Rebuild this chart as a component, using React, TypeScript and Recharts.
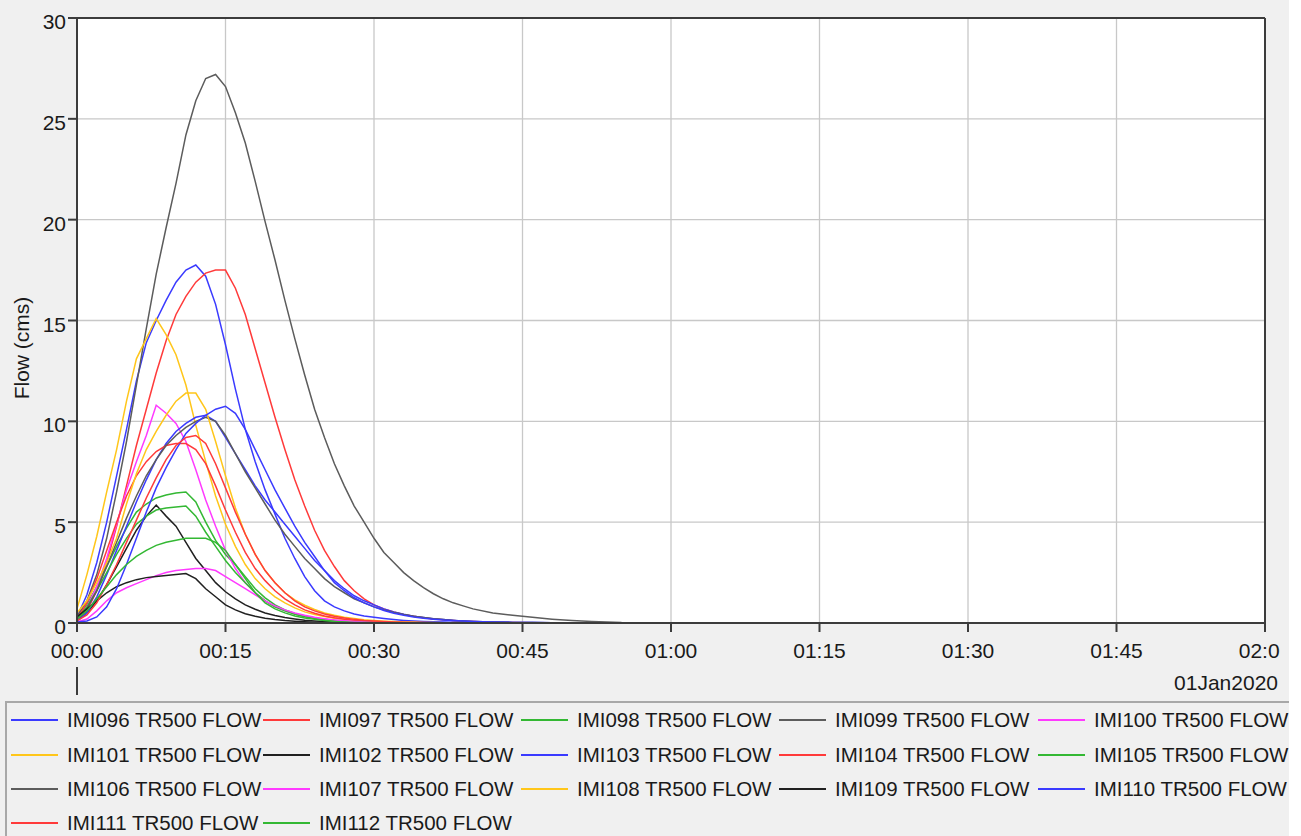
import React from "react";
import {
  LineChart,
  Line,
  XAxis,
  YAxis,
  CartesianGrid,
  ReferenceLine,
} from "recharts";

// sample times (minutes after 00:00)
const minutes = [
  0, 1, 2, 3, 4, 5, 6, 7, 8, 9, 10, 11, 12, 13, 14, 15, 16, 17, 18, 19, 20,
  21, 22, 23, 24, 25, 26, 27, 28, 29, 30, 31, 32, 33, 34, 35, 36, 37, 38, 39, 40,
  42, 44, 46, 48, 50, 52, 55, 60, 120,
];

const xTicks = [0, 15, 30, 45, 60, 75, 90, 105, 120];
const yTicks = [0, 5, 10, 15, 20, 25, 30];

const imi096 = [
  0.3, 1.4, 3.0, 5.0, 7.3, 9.6, 12.0, 13.9, 15.0, 16.0, 16.9,
  17.5, 17.75, 17.2, 15.8, 13.8, 11.6, 9.6, 8.0, 6.6, 5.4,
  4.2, 3.2, 2.3, 1.6, 1.1, 0.8, 0.6, 0.45, 0.35, 0.28,
  0.22, 0.17, 0.13, 0.1, 0.08, 0.06, 0.05, 0.04, 0.03, 0.02,
  0.01, 0, 0, 0, 0, 0, 0, 0, 0,
];
const imi097 = [
  0.1, 0.6, 1.6, 3.0, 4.8, 6.8, 8.8, 10.6, 12.4, 14.0, 15.3,
  16.2, 16.9, 17.35, 17.5, 17.5, 16.6, 15.3, 13.6, 11.9, 10.2,
  8.6, 7.1, 5.8, 4.6, 3.6, 2.8, 2.1, 1.6, 1.2, 0.9,
  0.7, 0.55, 0.42, 0.33, 0.26, 0.2, 0.16, 0.12, 0.09, 0.07,
  0.04, 0.02, 0.01, 0, 0, 0, 0, 0, 0,
];
const imi098 = [
  0.3, 0.9, 1.8, 2.8, 3.8, 4.7, 5.5, 5.9, 6.2, 6.35, 6.45,
  6.5, 6.0, 5.0, 4.1, 3.4, 2.9, 2.3, 1.7, 1.25, 0.9,
  0.65, 0.47, 0.34, 0.25, 0.18, 0.13, 0.09, 0.06, 0.04, 0.03,
  0.02, 0.01, 0, 0, 0, 0, 0, 0, 0, 0,
  0, 0, 0, 0, 0, 0, 0, 0, 0,
];
const imi099 = [
  0.3, 1.1, 2.4, 4.2, 6.5, 9.0, 11.8, 14.6, 17.3, 19.6, 21.8,
  24.2, 25.9, 27.0, 27.2, 26.6, 25.3, 23.8, 21.9, 19.9, 18.0,
  16.0, 14.1, 12.3, 10.6, 9.2, 7.9, 6.8, 5.8, 5.0, 4.2,
  3.5, 3.0, 2.5, 2.1, 1.75, 1.45, 1.2, 1.0, 0.85, 0.7,
  0.5, 0.38, 0.28, 0.19, 0.12, 0.07, 0.02, 0, 0,
];
const imi100 = [
  0.2, 0.8, 1.8, 3.2, 4.9, 6.6, 8.0, 9.3, 10.8, 10.4, 9.9,
  9.0, 7.6, 6.1, 4.8, 3.6, 2.7, 2.0, 1.5, 1.1, 0.8,
  0.6, 0.45, 0.34, 0.25, 0.19, 0.14, 0.1, 0.08, 0.06, 0.04,
  0.03, 0.02, 0.01, 0, 0, 0, 0, 0, 0, 0,
  0, 0, 0, 0, 0, 0, 0, 0, 0,
];
const imi101 = [
  0.7, 2.4, 4.3, 6.5, 8.6, 11.0, 13.1, 14.1, 15.1, 14.3, 13.3,
  11.8, 9.8, 8.0, 6.3, 4.9, 3.8, 2.9, 2.2, 1.7, 1.3,
  1.0, 0.75, 0.55, 0.42, 0.32, 0.24, 0.18, 0.13, 0.1, 0.07,
  0.05, 0.04, 0.03, 0.02, 0.01, 0, 0, 0, 0, 0,
  0, 0, 0, 0, 0, 0, 0, 0, 0,
];
const imi102 = [
  0.1, 0.5, 1.1, 1.9, 2.8, 3.7, 4.6, 5.3, 5.85, 5.3, 4.8,
  4.0, 3.2, 2.6, 2.0, 1.55, 1.2, 0.9, 0.68, 0.5, 0.37,
  0.27, 0.2, 0.14, 0.1, 0.07, 0.05, 0.03, 0.02, 0.01, 0,
  0, 0, 0, 0, 0, 0, 0, 0, 0, 0,
  0, 0, 0, 0, 0, 0, 0, 0, 0,
];
const imi103 = [
  0.1, 0.5, 1.3, 2.4, 3.6, 4.8, 6.0, 7.1, 8.1, 8.9, 9.5,
  9.9, 10.2, 10.3, 10.0, 9.2, 8.4, 7.6, 6.8, 6.1, 5.5,
  4.9, 4.3, 3.7, 3.1, 2.6, 2.1, 1.7, 1.35, 1.1, 0.9,
  0.7, 0.55, 0.43, 0.34, 0.27, 0.21, 0.17, 0.13, 0.1, 0.08,
  0.05, 0.03, 0.02, 0.01, 0, 0, 0, 0, 0,
];
const imi104 = [
  0.2, 1.0, 2.2, 3.6, 5.0, 6.3, 7.3, 8.0, 8.5, 8.8, 8.9,
  8.9, 8.6, 7.9, 6.8, 5.6, 4.5, 3.5, 2.7, 2.1, 1.6,
  1.2, 0.9, 0.65, 0.48, 0.35, 0.26, 0.19, 0.14, 0.1, 0.07,
  0.05, 0.04, 0.03, 0.02, 0.01, 0, 0, 0, 0, 0,
  0, 0, 0, 0, 0, 0, 0, 0, 0,
];
const imi105 = [
  0.2, 0.8, 1.6, 2.5, 3.4, 4.2, 4.9, 5.3, 5.6, 5.7, 5.75,
  5.8, 5.3, 4.5, 3.8, 3.1, 2.5, 2.0, 1.5, 1.1, 0.8,
  0.6, 0.43, 0.31, 0.22, 0.16, 0.11, 0.08, 0.05, 0.03, 0.02,
  0.01, 0, 0, 0, 0, 0, 0, 0, 0, 0,
  0, 0, 0, 0, 0, 0, 0, 0, 0,
];
const imi106 = [
  0.2, 0.7, 1.6, 2.8, 4.0, 5.2, 6.3, 7.3, 8.1, 8.8, 9.3,
  9.7, 10.0, 10.2, 10.0, 9.3, 8.4, 7.5, 6.7, 5.9, 5.1,
  4.4, 3.8, 3.2, 2.7, 2.2, 1.8, 1.5, 1.2, 1.0, 0.8,
  0.65, 0.52, 0.42, 0.34, 0.27, 0.21, 0.17, 0.13, 0.1, 0.08,
  0.05, 0.03, 0.02, 0.01, 0, 0, 0, 0, 0,
];
const imi107 = [
  0.05, 0.2, 0.6, 1.1, 1.5, 1.75, 1.95, 2.15, 2.35, 2.5, 2.6,
  2.65, 2.7, 2.7, 2.6, 2.3, 2.0, 1.7, 1.4, 1.1, 0.85,
  0.65, 0.5, 0.38, 0.28, 0.21, 0.15, 0.11, 0.08, 0.06, 0.04,
  0.03, 0.02, 0.01, 0, 0, 0, 0, 0, 0, 0,
  0, 0, 0, 0, 0, 0, 0, 0, 0,
];
const imi108 = [
  0.5, 1.1, 2.0, 3.0, 4.2, 5.9, 7.4, 8.6, 9.5, 10.3, 11.0,
  11.4, 11.4, 10.6, 9.0, 7.3, 5.7, 4.4, 3.4, 2.6, 2.0,
  1.5, 1.15, 0.88, 0.67, 0.5, 0.38, 0.29, 0.22, 0.16, 0.12,
  0.09, 0.07, 0.05, 0.04, 0.03, 0.02, 0.01, 0, 0, 0,
  0, 0, 0, 0, 0, 0, 0, 0, 0,
];
const imi109 = [
  0.3, 0.7, 1.1, 1.5, 1.8, 2.0, 2.15, 2.25, 2.3, 2.35, 2.4,
  2.45, 2.2, 1.7, 1.3, 0.9, 0.65, 0.46, 0.33, 0.24, 0.17,
  0.12, 0.09, 0.06, 0.04, 0.03, 0.02, 0.01, 0, 0, 0,
  0, 0, 0, 0, 0, 0, 0, 0, 0, 0,
  0, 0, 0, 0, 0, 0, 0, 0, 0,
];
const imi110 = [
  0.05, 0.1, 0.3, 0.8, 1.7, 2.9, 4.2, 5.5, 6.7, 7.7, 8.6,
  9.4, 9.9, 10.3, 10.6, 10.75, 10.4, 9.6, 8.6, 7.6, 6.6,
  5.7, 4.8, 4.0, 3.3, 2.6, 2.0, 1.6, 1.25, 1.0, 0.8,
  0.62, 0.48, 0.38, 0.3, 0.24, 0.19, 0.15, 0.12, 0.1, 0.08,
  0.05, 0.03, 0.02, 0.01, 0, 0, 0, 0, 0,
];
const imi111 = [
  0.1, 0.4, 1.0, 1.9, 2.9, 4.0, 5.1, 6.2, 7.2, 8.1, 8.8,
  9.2, 9.3, 8.9, 7.9, 6.7, 5.5, 4.4, 3.4, 2.6, 2.0,
  1.5, 1.1, 0.8, 0.6, 0.45, 0.33, 0.25, 0.18, 0.13, 0.1,
  0.07, 0.05, 0.04, 0.03, 0.02, 0.01, 0, 0, 0, 0,
  0, 0, 0, 0, 0, 0, 0, 0, 0,
];
const imi112 = [
  0.2, 0.6, 1.2, 1.8, 2.4, 2.9, 3.3, 3.6, 3.85, 4.0, 4.1,
  4.2, 4.2, 4.2, 4.0, 3.6, 2.9, 2.2, 1.5, 1.0, 0.7,
  0.5, 0.35, 0.25, 0.18, 0.12, 0.08, 0.05, 0.03, 0.02, 0.01,
  0, 0, 0, 0, 0, 0, 0, 0, 0, 0,
  0, 0, 0, 0, 0, 0, 0, 0, 0,
];

const BLUE = "#3a3aff";
const RED = "#ff3a3a";
const GREEN = "#33b833";
const GRAY = "#5c5c5c";
const MAGENTA = "#ff3aff";
const GOLD = "#ffc61a";
const BLACK = "#202020";

const series = [
  { name: "IMI096 TR500 FLOW", values: imi096, color: BLUE },
  { name: "IMI097 TR500 FLOW", values: imi097, color: RED },
  { name: "IMI098 TR500 FLOW", values: imi098, color: GREEN },
  { name: "IMI099 TR500 FLOW", values: imi099, color: GRAY },
  { name: "IMI100 TR500 FLOW", values: imi100, color: MAGENTA },
  { name: "IMI101 TR500 FLOW", values: imi101, color: GOLD },
  { name: "IMI102 TR500 FLOW", values: imi102, color: BLACK },
  { name: "IMI103 TR500 FLOW", values: imi103, color: BLUE },
  { name: "IMI104 TR500 FLOW", values: imi104, color: RED },
  { name: "IMI105 TR500 FLOW", values: imi105, color: GREEN },
  { name: "IMI106 TR500 FLOW", values: imi106, color: GRAY },
  { name: "IMI107 TR500 FLOW", values: imi107, color: MAGENTA },
  { name: "IMI108 TR500 FLOW", values: imi108, color: GOLD },
  { name: "IMI109 TR500 FLOW", values: imi109, color: BLACK },
  { name: "IMI110 TR500 FLOW", values: imi110, color: BLUE },
  { name: "IMI111 TR500 FLOW", values: imi111, color: RED },
  { name: "IMI112 TR500 FLOW", values: imi112, color: GREEN },
];

const data = minutes.map((m, i) => {
  const row: Record<string, number> = { minute: m };
  series.forEach((s) => {
    row[s.name] = s.values[i];
  });
  return row;
});

const FONT = '"Liberation Sans", Arial, sans-serif';
const TEXT = "#1a1a1a";
const AXIS = "#3c3c3c";

const fmtTime = (m: number) => {
  const h = Math.floor(m / 60);
  const mm = m % 60;
  return `${String(h).padStart(2, "0")}:${String(mm).padStart(2, "0")}`;
};

const XTick = ({ x, y, payload }: any) => (
  <text x={x} y={y + 24} textAnchor="middle" fontSize={21} fontFamily={FONT} fill={TEXT}>
    {fmtTime(payload.value)}
  </text>
);

const YTick = ({ x, y, payload }: any) => (
  <text x={x} y={y + 11} textAnchor="end" fontSize={21} fontFamily={FONT} fill={TEXT}>
    {payload.value}
  </text>
);

const YLabel = () => (
  <text
    transform="translate(29,348) rotate(-90)"
    textAnchor="middle"
    fontSize={21}
    fontFamily={FONT}
    fill={TEXT}
  >
    Flow (cms)
  </text>
);

// legend layout
const legendTextX = [67, 319, 577, 835, 1094];
const legendRowY = [720, 755, 789, 823];

export default function App() {
  return (
    <div
      style={{
        position: "absolute",
        left: 0,
        top: 0,
        width: 1301,
        height: 836,
        background: "#ffffff",
        overflow: "hidden",
      }}
    >
      <div
        style={{
          position: "absolute",
          left: 0,
          top: 0,
          width: 1289,
          height: 836,
          background: "#f0f0f0",
          overflow: "hidden",
          fontFamily: FONT,
        }}
      >
        <div style={{ position: "absolute", left: 0, top: 0, width: 1280, height: 700, overflow: "hidden" }}>
          <LineChart
            width={1280}
            height={700}
            data={data}
            margin={{ top: 18, right: 15, left: 0, bottom: 37 }}
          >
            <CartesianGrid stroke="#c8c8c8" strokeWidth={1.3} fill="#ffffff" />
            <XAxis
              dataKey="minute"
              type="number"
              domain={[0, 120]}
              ticks={xTicks}
              height={40}
              tick={<XTick />}
              tickSize={9}
              tickMargin={2}
              stroke={AXIS}
              strokeWidth={2}
              interval={0}
            />
            <YAxis
              type="number"
              domain={[0, 30]}
              ticks={yTicks}
              width={77}
              tick={<YTick />}
              tickSize={9}
              tickMargin={2}
              stroke={AXIS}
              strokeWidth={2}
              interval={0}
              label={YLabel}
            />
            <ReferenceLine y={30} stroke={AXIS} strokeWidth={2} />
            <ReferenceLine x={120} stroke={AXIS} strokeWidth={2} />
            {series.map((s) => (
              <Line
                key={s.name}
                dataKey={s.name}
                type="linear"
                stroke={s.color}
                strokeWidth={1.5}
                dot={false}
                isAnimationActive={false}
              />
            ))}
          </LineChart>
        </div>

        {/* date marker */}
        <div style={{ position: "absolute", left: 76, top: 667, width: 2, height: 28, background: AXIS }} />
        <div
          style={{
            position: "absolute",
            right: 1289 - 1278,
            top: 670,
            fontSize: 21,
            lineHeight: "26px",
            color: TEXT,
            whiteSpace: "nowrap",
          }}
        >
          01Jan2020
        </div>

        {/* legend */}
        <div
          style={{
            position: "absolute",
            left: 5,
            top: 701,
            width: 1310,
            height: 150,
            border: "2px solid #a8a8a8",
            boxSizing: "border-box",
          }}
        />
        {series.map((s, i) => {
          const col = i % 5;
          const row = Math.floor(i / 5);
          const tx = legendTextX[col];
          const cy = legendRowY[row];
          return (
            <React.Fragment key={s.name}>
              <div
                style={{
                  position: "absolute",
                  left: tx - 56,
                  top: cy - 1,
                  width: 47,
                  height: 2,
                  background: s.color,
                }}
              />
              <div
                style={{
                  position: "absolute",
                  left: tx,
                  top: cy - 13,
                  fontSize: 20.5,
                  lineHeight: "26px",
                  color: TEXT,
                  whiteSpace: "nowrap",
                }}
              >
                {s.name}
              </div>
            </React.Fragment>
          );
        })}
      </div>
    </div>
  );
}
